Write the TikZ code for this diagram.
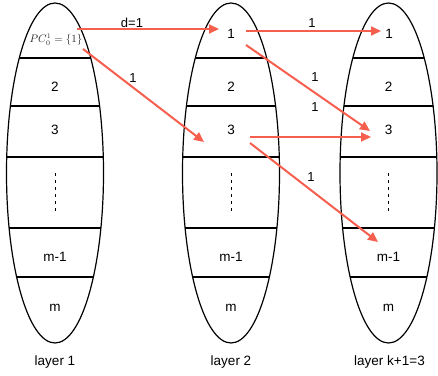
\documentclass[tikz,border=0pt]{standalone}
\usepackage{fontspec}
\setmainfont{Liberation Sans}
\usetikzlibrary{arrows.meta}
\definecolor{arrred}{RGB}{246,94,78}
\begin{document}
\begin{tikzpicture}[x=1pt,y=-1pt,
  outline/.style={line width=1.2pt},
  chord/.style={line width=1.2pt},
  lbl/.style={font=\fontsize{13.5}{16}\selectfont, inner sep=0pt},
  wlbl/.style={font=\fontsize{13}{16}\selectfont, inner sep=0pt},
  link/.style={draw=arrred, line width=2pt, -{Triangle[length=10pt,width=9pt]}},
  dots/.style={line width=1pt, dash pattern=on 3pt off 4pt}
]
\useasboundingbox (0,0) rectangle (438,375);
\foreach \cx/\n in {55/1,231/2,388.5/3}{
  \begin{scope}
    \clip (\cx,173) ellipse [x radius=48.5pt, y radius=170pt];
    \foreach \yy in {58,106,157,228,277}{
      \draw[chord] (\cx-60,\yy) -- (\cx+60,\yy);
    }
  \end{scope}
  \draw[outline] (\cx,173) ellipse [x radius=48.5pt, y radius=170pt];
  \draw[dots] (\cx,173) -- (\cx,212);
  \node[lbl] (r2-\n) at (\cx,87) {2};
  \node[lbl] (r3-\n) at (\cx,130) {3};
  \node[lbl] (rm1-\n) at (\cx,257) {m-1};
  \node[lbl] (rm-\n) at (\cx,308) {m};
}
\node[inner sep=0pt, text=black!85, font=\fontsize{10.5}{12}\selectfont] (pc) at (56,40) {$PC_0^1=\{1\}$};
\node[lbl] (r1-2) at (231,34) {1};
\node[lbl] (r1-3) at (389,34) {1};
\node[lbl] (lay1) at (55,362) {layer 1};
\node[lbl] (lay2) at (231,362) {layer 2};
\node[lbl] (lay3) at (389.5,362) {layer k+1=3};

\coordinate (a1s) at (77,29);  \coordinate (a1e) at (219,29);
\coordinate (a2s) at (83,49);  \coordinate (a2e) at (204,142);
\coordinate (a3s) at (246,31); \coordinate (a3e) at (381,31);
\coordinate (a4s) at (246,45); \coordinate (a4e) at (370,131);
\coordinate (a5s) at (250,137);\coordinate (a5e) at (371,137);
\coordinate (a6s) at (250,143);\coordinate (a6e) at (378,242);
\draw[link] (a1s) -- (a1e);
\draw[link] (a2s) -- (a2e);
\draw[link] (a3s) -- (a3e);
\draw[link] (a4s) -- (a4e);
\draw[link] (a5s) -- (a5e);
\draw[link] (a6s) -- (a6e);
\node[wlbl] (w1) at (132,23) {d=1};
\node[wlbl] (w2) at (133,78) {1};
\node[wlbl] (w3) at (312,23) {1};
\node[wlbl] (w4) at (315,77) {1};
\node[wlbl] (w5) at (315,107) {1};
\node[wlbl] (w6) at (311,177) {1};
\end{tikzpicture}
\end{document}
